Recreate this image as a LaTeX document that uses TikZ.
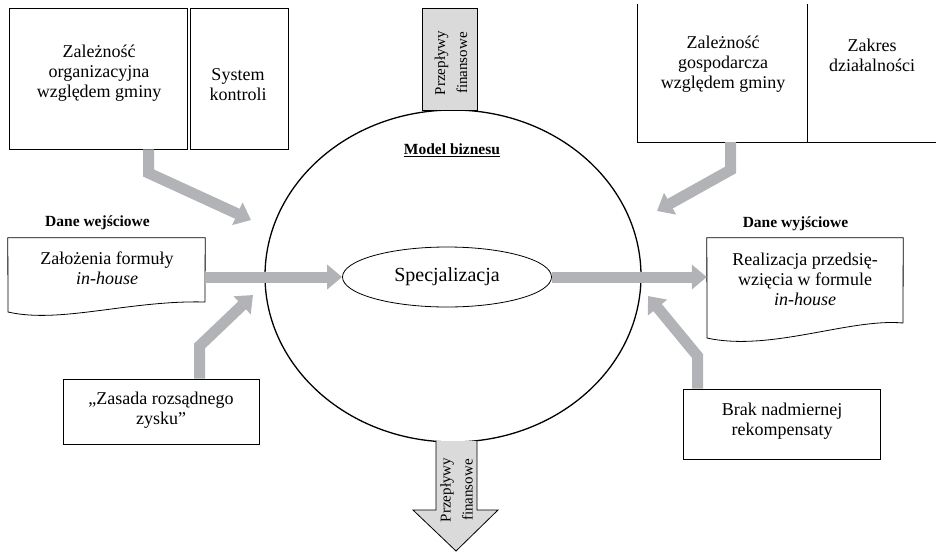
\documentclass[tikz,border=0pt]{standalone}
\usepackage{fontspec}
\setmainfont{Liberation Serif}
\usetikzlibrary{arrows.meta,shapes.geometric,calc}
\definecolor{arrowgray}{RGB}{178,179,183}
\definecolor{boxgray}{RGB}{218,218,218}
\begin{document}
\begin{tikzpicture}[x=1pt,y=-1pt,
  frame/.style={draw, line width=0.8pt, rectangle, inner sep=0pt},
  ghost/.style={draw=none, rectangle, inner sep=0pt},
  txt/.style={align=center, inner sep=0pt, font=\fontsize{18}{20}\selectfont},
  rottxt/.style={align=center, inner sep=0pt, rotate=90, font=\fontsize{15}{22}\selectfont},
  lbl/.style={inner sep=0pt, font=\fontsize{15.5}{18}\selectfont\bfseries},
  garrow/.style={draw=arrowgray, line width=11pt, -{Triangle[length=15pt,width=24pt]}},
]
\useasboundingbox (0,0) rectangle (936,552);

% big ellipse and inner ellipse
\node[draw, ellipse, line width=1.3pt, minimum width=376, minimum height=332, inner sep=0pt] (model) at (453,276) {};
\node[draw, ellipse, line width=0.8pt, minimum width=209, minimum height=60, inner sep=0pt,
      font=\fontsize{20}{24}\selectfont] (spec) at (447,277) {Specjalizacja};
\node[lbl] (mb) at (452,150) {\underline{Model biznesu}};

% top-left boxes
\node[frame, minimum width=178, minimum height=141] (tlA) at (98,78.5) {};
\node[frame, minimum width=98, minimum height=141] (tlB) at (239,78.5) {};
\node[txt] (orgtxt) at (99,73) {Zależność\\organizacyjna\\względem gminy};
\node[txt] (systxt) at (238,85) {System\\kontroli};

% top-right boxes (open at top and right)
\node[ghost, minimum width=169, minimum height=138] (trA) at (722.5,73) {};
\node[ghost, minimum width=129, minimum height=138] (trB) at (871.5,73) {};
\draw[line width=0.8pt] (trA.north west) -- (trA.south west) -- (trB.south east);
\draw[line width=0.8pt] (trA.north east) -- (trA.south east);
\node[txt] (gostxt) at (723,64) {Zależność\\gospodarcza\\względem gminy};
\node[txt] (zaktxt) at (872,55) {Zakres\\działalności};

% top financial flows box
\node[frame, fill=boxgray, minimum width=55, minimum height=102] (finin) at (449.5,59) {};
\node[rottxt] (finintxt) at (451,63) {Przepływy\\finansowe};

% bottom financial flows arrow
\fill[boxgray] (436,441) -- (436,510) -- (413,510) -- (456,551) -- (498,510) -- (477,510) -- (477,441) -- cycle;
\draw[line width=0.8pt] (436,441) -- (436,510) -- (413,510) -- (456,551) -- (498,510) -- (477,510) -- (477,441);
\node[rottxt] (finout) at (456.5,490) {Przepływy\\finansowe};

% input document
\node[lbl] (inlbl) at (97.5,223) {Dane wejściowe};
\node[ghost, minimum width=197, minimum height=78] (indoc) at (106.5,277) {};
\draw[line width=0.8pt] (8,312) -- (indoc.north west) -- (indoc.north east) -- (205,302)
  .. controls (130,300) and (60,324) .. (8,312) -- cycle;
\node[txt] (intxt) at (107,268) {Założenia formuły\\\textit{in-house}};

% output document
\node[lbl] (outlbl) at (795.5,224) {Dane wyjściowe};
\node[ghost, minimum width=196, minimum height=78] (rdoc) at (805,277) {};
\draw[line width=0.8pt] (707,338) -- (rdoc.north west) -- (rdoc.north east) -- (903,323)
  .. controls (850,318) and (770,352) .. (707,338) -- cycle;
\node[txt] (outtxt) at (805,279) {Realizacja przedsię-\\wzięcia w formule\\\textit{in-house}};

% bottom boxes
\node[frame, minimum width=196, minimum height=65] (rz) at (161,411.5) {};
\node[txt] (rztxt) at (161,410) {„Zasada rozsądnego\\zysku”};
\node[frame, minimum width=197, minimum height=70] (brak) at (781.5,424) {};
\node[txt] (braktxt) at (782,421) {Brak nadmiernej\\rekompensaty};

% arrows
\coordinate (b1) at (148.5,173);
\coordinate (t1) at (251,220);
\draw[garrow] (b1 |- tlA.south) -- (b1) -- (t1);

\coordinate (b2) at (730.5,170);
\coordinate (t2) at (657,211);
\draw[garrow] (b2 |- trA.south) -- (b2) -- (t2);

\coordinate (b3) at (199.5,346);
\coordinate (t3) at (253,295);
\draw[garrow] (b3 |- rz.north) -- (b3) -- (t3);

\coordinate (b4) at (697.5,356);
\coordinate (t4) at (648,296);
\draw[garrow] (b4 |- brak.north) -- (b4) -- (t4);

\draw[garrow] (indoc.east) -- (spec.west);
\draw[garrow] (spec.east) -- (rdoc.west);
\end{tikzpicture}
\end{document}
